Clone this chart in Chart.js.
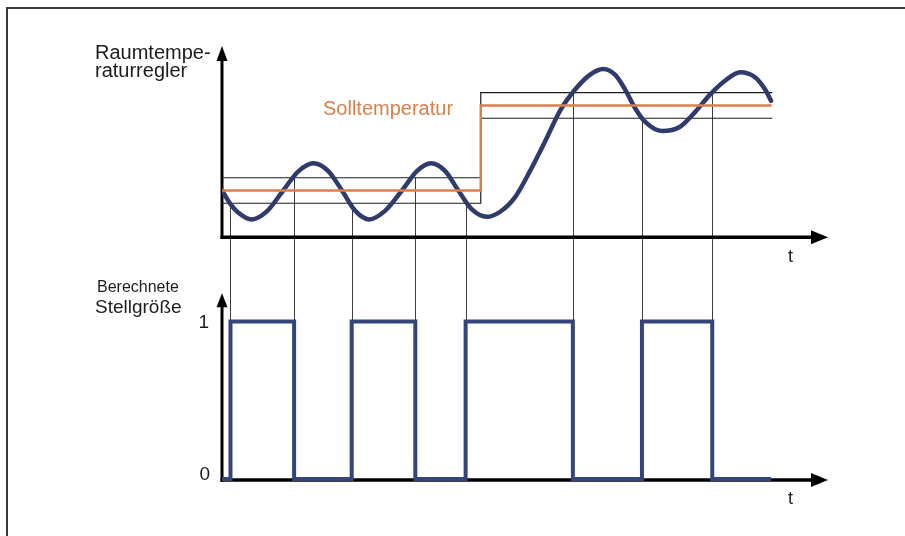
<!DOCTYPE html>
<html>
<head>
<meta charset="utf-8">
<script src="https://cdn.jsdelivr.net/npm/chart.js@4.4.1/dist/chart.umd.min.js"></script>
<style>
  html, body { margin: 0; padding: 0; background: #ffffff; }
  canvas { display: block; }
</style>
</head>
<body>
<canvas id="c" width="905" height="536"></canvas>
<script>
// Room temperature over time (°C)
const timeTemp = [0, 1.4, 2.6, 4.9, 7.4, 10.1, 12.6, 15.1, 17.5, 19.8, 22.0, 24.3, 26.9, 29.7, 32.2, 34.5,
                  36.8, 39.0, 41.2, 43.7, 45.9, 48.4, 50.8, 53.3, 55.8, 58.3, 60.7, 62.9, 64.9, 66.5,
                  68.2, 69.8, 72.6, 75.6, 78.1, 80.5, 83.0, 85.5, 88.0, 89.6, 90.6];
const roomTemp = [20.0, 19.68, 19.49, 19.32, 19.51, 20.0, 20.45, 20.64, 20.46, 20.0, 19.52, 19.32, 19.52, 20.0, 20.46, 20.64,
                  20.46, 20.0, 19.56, 19.38, 19.50, 19.85, 20.45, 21.15, 21.88, 22.38, 22.72, 22.86, 22.72, 22.38,
                  21.93, 21.62, 21.40, 21.50, 21.85, 22.25, 22.58, 22.78, 22.66, 22.38, 22.11];

// Setpoint (Solltemperatur) and switching hysteresis
const timeSet = [0, 42.7, 90.7];
const setTemp = [20, 22, 22];
const hysteresis = 0.3;

// Calculated control output (0 = off, 1 = on), value holds from each time onward
const timeSwitch = [0, 1.4, 11.9, 21.4, 31.9, 40.2, 57.9, 69.3, 80.9, 90.6];
const heatingOutput = [0, 1, 0, 1, 0, 1, 0, 1, 0, 0];
const outputTicks = ['0', '1'];

const NAVY = '#2e3b6b';
const ORANGE = '#db7f4b';
const INK = '#1c1c1c';
const FONT = "'Liberation Sans', Arial, sans-serif";

// step data: each value holds until the next time
function steps(xs, ys) {
  const out = [];
  for (let i = 0; i < xs.length; i++) {
    out.push({ x: xs[i], y: i > 0 ? ys[i - 1] : ys[0] });
    out.push({ x: xs[i], y: ys[i] });
  }
  return out;
}
const pts = (xs, ys) => xs.map((x, i) => ({ x: x, y: ys[i] }));
const bandEnd = 90.8;
const bandTimes = timeSet.slice(0, -1).concat([bandEnd]);
const bandUpper = steps(bandTimes, setTemp.map(v => v + hysteresis));
const bandLower = steps(bandTimes, setTemp.map(v => v - hysteresis));

function setpointAt(t) {
  let v = setTemp[0];
  for (let i = 0; i < timeSet.length; i++) if (t >= timeSet[i]) v = setTemp[i];
  return v;
}

function arrow(ctx, x1, y1, x2, y2, len, half, width) {
  const a = Math.atan2(y2 - y1, x2 - x1);
  const bx = x2 - Math.cos(a) * len, by = y2 - Math.sin(a) * len;
  ctx.save();
  ctx.strokeStyle = '#000'; ctx.fillStyle = '#000';
  ctx.lineWidth = width; ctx.lineCap = 'butt';
  ctx.beginPath(); ctx.moveTo(x1, y1); ctx.lineTo(bx + Math.cos(a) * 2, by + Math.sin(a) * 2); ctx.stroke();
  ctx.beginPath();
  ctx.moveTo(x2, y2);
  ctx.lineTo(bx - Math.sin(a) * half, by + Math.cos(a) * half);
  ctx.lineTo(bx + Math.sin(a) * half, by - Math.cos(a) * half);
  ctx.closePath(); ctx.fill();
  ctx.restore();
}

const diagram = {
  id: 'diagram',
  beforeDraw(chart) {
    const ctx = chart.ctx;
    ctx.save();
    ctx.fillStyle = '#ffffff';
    ctx.fillRect(0, 0, chart.width, chart.height);
    // frame
    ctx.strokeStyle = '#3a3a3a';
    ctx.lineWidth = 2;
    ctx.beginPath();
    ctx.moveTo(chart.width, 8); ctx.lineTo(7, 8); ctx.lineTo(7, chart.height);
    ctx.stroke();
    ctx.restore();
  },
  beforeDatasetsDraw(chart) {
    const ctx = chart.ctx;
    const x = chart.scales.x, yT = chart.scales.yTemp, yO = chart.scales.yOut;
    // switching lines: band crossing down to the output level
    ctx.save();
    ctx.strokeStyle = '#3c3c3c';
    ctx.lineWidth = 1;
    for (let i = 1; i < timeSwitch.length; i++) {
      if (heatingOutput[i] === heatingOutput[i - 1]) continue;
      const t = timeSwitch[i];
      const sp = setpointAt(t);
      const level = heatingOutput[i] === 1 ? sp - hysteresis : sp + hysteresis;
      const px = Math.round(x.getPixelForValue(t)) + 0.5;
      ctx.beginPath();
      ctx.moveTo(px, yT.getPixelForValue(level));
      ctx.lineTo(px, yO.getPixelForValue(1));
      ctx.stroke();
    }
    ctx.restore();

    // axes with arrows
    const x0 = x.getPixelForValue(0);
    const xEnd = x.getPixelForValue(100);
    const tBase = yT.getPixelForValue(18.9);
    const tTop = yT.getPixelForValue(23.4);
    const oBase = yO.getPixelForValue(0) + 1;
    const oTop = yO.getPixelForValue(1.18);
    arrow(ctx, x0, tBase + 1.5, x0, tTop, 15, 5.5, 3);
    arrow(ctx, x0 - 1.5, tBase, xEnd, tBase, 17, 7, 3.5);
    arrow(ctx, x0, oBase + 1.5, x0, oTop, 14, 5.5, 3);
    arrow(ctx, x0 - 1.5, oBase, xEnd, oBase, 17, 7, 3.5);
  },
  afterDatasetsDraw(chart) {
    const ctx = chart.ctx;
    const yO = chart.scales.yOut, yT = chart.scales.yTemp;
    ctx.save();
    ctx.fillStyle = INK;
    ctx.textBaseline = 'alphabetic';
    ctx.textAlign = 'left';
    ctx.font = '20px ' + FONT;
    ctx.fillText('Raumtempe-', 95, 59);
    ctx.fillText('raturregler', 95, 77);
    ctx.font = '16px ' + FONT;
    ctx.fillText('Berechnete', 97, 292);
    ctx.font = '19px ' + FONT;
    ctx.fillText('Stellgröße', 95, 313);
    ctx.font = '18px ' + FONT;
    ctx.fillText('t', 788, yT.getPixelForValue(18.9) + 25);
    ctx.fillText('t', 788, yO.getPixelForValue(0) + 25);
    ctx.textAlign = 'right';
    ctx.font = '19px ' + FONT;
    ctx.fillText(outputTicks[1], 209, yO.getPixelForValue(1) + 6);
    ctx.fillText(outputTicks[0], 210, yO.getPixelForValue(0) + 1);
    ctx.textAlign = 'left';
    ctx.fillStyle = ORANGE;
    ctx.font = '20px ' + FONT;
    ctx.fillText('Solltemperatur', 323, yT.getPixelForValue(setTemp[1]) + 10);
    ctx.restore();
  }
};

new Chart(document.getElementById('c'), {
  type: 'line',
  data: {
    datasets: [
      { label: 'Solltemperatur', data: steps(timeSet, setTemp), yAxisID: 'yTemp',
        borderColor: ORANGE, borderWidth: 2.5, pointRadius: 0, order: 0, borderJoinStyle: 'miter' },
      { label: 'Raumtemperatur', data: pts(timeTemp, roomTemp), yAxisID: 'yTemp',
        cubicInterpolationMode: 'monotone', borderColor: NAVY, borderWidth: 4.5, pointRadius: 0,
        borderCapStyle: 'round', borderJoinStyle: 'round', order: 1 },
      { label: 'Stellgröße', data: steps(timeSwitch, heatingOutput), yAxisID: 'yOut',
        borderColor: '#33457a', borderWidth: 4, pointRadius: 0, order: 1, borderJoinStyle: 'miter' },
      { label: 'Schaltschwelle oben', data: bandUpper, yAxisID: 'yTemp',
        borderColor: INK, borderWidth: 1.2, pointRadius: 0, order: 3 },
      { label: 'Schaltschwelle unten', data: bandLower, yAxisID: 'yTemp',
        borderColor: INK, borderWidth: 1.2, pointRadius: 0, order: 3 }
    ]
  },
  options: {
    responsive: false,
    animation: false,
    devicePixelRatio: 1,
    layout: { padding: { left: 222, right: 77, top: 40, bottom: 36 } },
    plugins: { legend: { display: false }, tooltip: { enabled: false } },
    scales: {
      x: { type: 'linear', min: 0, max: 100, display: false },
      yTemp: { type: 'linear', min: 12.72, max: 23.54, display: false },
      yOut: { type: 'linear', min: -0.133, max: 2.787, display: false }
    }
  },
  plugins: [diagram]
});
</script>
</body>
</html>
